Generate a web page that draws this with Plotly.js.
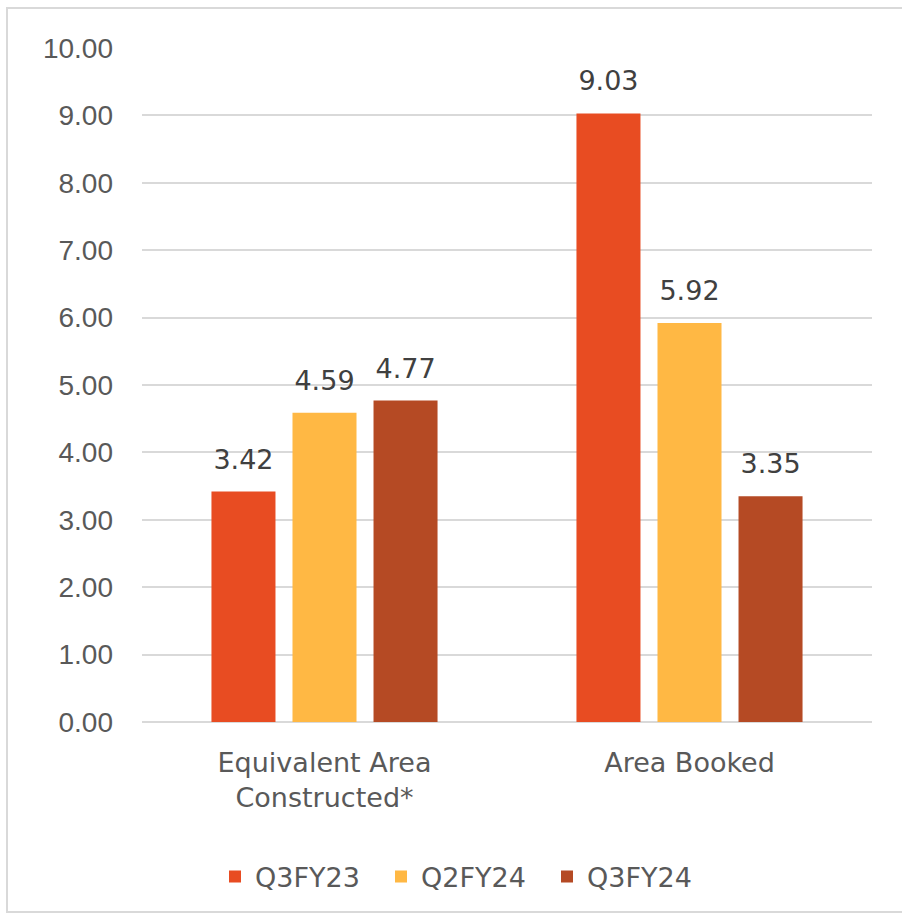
<!DOCTYPE html>
<html><head><meta charset="utf-8">
<script src="https://cdn.plot.ly/plotly-3.0.1.min.js"></script>
<style>
html,body{margin:0;padding:0;background:#fff;}
#frame{position:absolute;left:6px;top:7px;width:900px;height:906px;border:2px solid #d9d9d9;border-right:none;box-sizing:border-box;}
#chart{position:absolute;left:0;top:0;width:902px;height:917px;}
</style></head>
<body>
<div id="frame"></div>
<div id="chart"></div>
<script>
const categories = ["Equivalent Area<br>Constructed*", "Area Booked"];
const seriesNames = ["Q3FY23", "Q2FY24", "Q3FY24"];
const q3fy23 = [3.42, 9.03];
const q2fy24 = [4.59, 5.92];
const q3fy24 = [4.77, 3.35];
const colors = ["#E84C22", "#FFB844", "#B54A24"];
const values = [q3fy23, q2fy24, q3fy24];
const fontFam = "DejaVu Sans, sans-serif";
const tickFam = "Liberation Sans, Arial, sans-serif";
const data = values.map((v, i) => ({
  type: "bar", name: seriesNames[i], x: categories, y: v,
  marker: {color: colors[i]},
  texttemplate: '<span style="font-size:27px">%{y:.2f}</span><br>\u00A0',
  textposition: "outside",
  textfont: {family: fontFam, size: 13, color: "#404040"},
  cliponaxis: false
}));
const layout = {
  width: 902, height: 917,
  paper_bgcolor: "rgba(0,0,0,0)", plot_bgcolor: "rgba(0,0,0,0)",
  margin: {l: 142, r: 30, t: 48, b: 195},
  barmode: "group", bargap: 0.334, bargroupgap: 0.21,
  uniformtext: {mode: false},
  font: {family: fontFam, size: 27, color: "#595959"},
  xaxis: {tickfont: {family: fontFam, size: 27, color: "#595959"}, ticks: "", showline: false, fixedrange: true,
          ticklabelstandoff: 22},
  yaxis: {range: [0, 10], dtick: 1, tickformat: ".2f", showgrid: true, gridcolor: "#d9d9d9", gridwidth: 2,
          zeroline: true, zerolinecolor: "#d9d9d9", zerolinewidth: 2, showline: false,
          tickfont: {family: tickFam, size: 28, color: "#595959"}, ticklabelstandoff: 28},
  showlegend: true,
  legend: {orientation: "h", x: 0.1, xanchor: "left", y: -0.23, yanchor: "middle",
           entrywidth: 121, entrywidthmode: "pixels",
           font: {family: fontFam, size: 27, color: "#595959"}, traceorder: "normal"}
};
Plotly.newPlot("chart", data, layout, {displayModeBar: false, staticPlot: true});
</script>
</body></html>
